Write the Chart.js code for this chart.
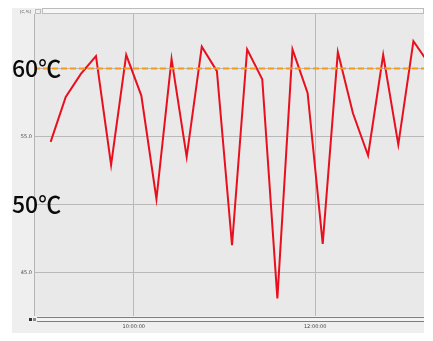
<!DOCTYPE html>
<html lang="en">
<head>
  <meta charset="UTF-8">
  <title>Temperature log</title>
  <script src="https://cdn.jsdelivr.net/npm/chart.js"></script>
  <style>
    html, body { margin: 0; padding: 0; background: #ffffff; }
    #wrap { width: 433px; height: 341px; position: relative; }
  </style>
</head>
<body>
  <div id="wrap"><canvas id="tempChart" width="433" height="341"></canvas></div>

  <script>
    // readings every 10 minutes, time in minutes after midnight
    const times = [545, 555, 565, 575, 585, 595, 605, 615, 625, 635, 645, 655, 665,
                   675, 685, 695, 705, 715, 725, 735, 745, 755, 765, 775, 785, 795];
    const temps = [54.6, 57.9, 59.6, 60.9, 52.9, 61.0, 58.0, 50.4, 60.7, 53.5, 61.6, 59.8, 47.0,
                   61.4, 59.2, 43.1, 61.4, 58.2, 47.1, 61.2, 56.7, 53.6, 61.0, 54.4, 62.0, 60.4];
    const xTicks = [600, 720];
    const yTicks = [45, 50, 55, 60];
    const yLabelled = [45, 55];
    const limitValue = 60;
    const bigLabels = [{ value: 60, text: '60℃' }, { value: 50, text: '50℃' }];

    const xMin = 534, xMax = 792;

    function fmtTime(m) {
      const h = Math.floor(m / 60), mm = m % 60;
      return String(h).padStart(2, '0') + ':' + String(mm).padStart(2, '0') + ':00';
    }

    // panel, header strip and scroll bar around the plot
    const framePlugin = {
      id: 'frame',
      beforeDraw(chart) {
        const { ctx, chartArea: a } = chart;
        ctx.save();
        ctx.fillStyle = '#ffffff';
        ctx.fillRect(0, 0, chart.width, chart.height);
        ctx.fillStyle = '#efefef';
        ctx.fillRect(12, 8, a.right - 12, 325);
        ctx.fillStyle = '#e9e9e9';
        ctx.fillRect(a.left, a.top, a.right - a.left, a.bottom - a.top);
        // header strip
        ctx.fillStyle = '#f7f7f7';
        ctx.fillRect(42, 8, a.right - 42, 6);
        ctx.strokeStyle = '#bcbcbc';
        ctx.lineWidth = 1;
        ctx.strokeRect(42.5, 8.5, a.right - 43, 5);
        ctx.strokeRect(35.5, 9.5, 5, 4);
        ctx.fillStyle = '#555';
        ctx.font = '4px "DejaVu Sans"';
        ctx.textBaseline = 'middle';
        ctx.fillText('[C,%]', 20, 11.5);
        // plot border
        ctx.strokeStyle = '#b5b5b5';
        ctx.beginPath();
        ctx.moveTo(a.left + 0.5, a.top);
        ctx.lineTo(a.left + 0.5, a.bottom);
        ctx.stroke();
        // scroll bar
        ctx.fillStyle = '#f4f4f4';
        ctx.fillRect(37, a.bottom + 1, a.right - 37, 5);
        ctx.strokeStyle = '#7e7e7e';
        ctx.beginPath();
        ctx.moveTo(37, a.bottom + 1.5); ctx.lineTo(a.right, a.bottom + 1.5);
        ctx.moveTo(37, a.bottom + 5.5); ctx.lineTo(a.right, a.bottom + 5.5);
        ctx.stroke();
        ctx.fillStyle = '#333';
        ctx.fillRect(29, a.bottom + 2, 3, 3);
        ctx.fillStyle = '#888';
        ctx.fillRect(33, a.bottom + 2, 3, 3);
        ctx.restore();
      },
      afterDraw(chart) {
        const { ctx } = chart;
        const y = chart.scales.y;
        ctx.save();
        ctx.fillStyle = '#0a0a0a';
        ctx.font = '500 23px "Noto Sans CJK JP"';
        ctx.textBaseline = 'middle';
        bigLabels.forEach(l => {
          ctx.fillText(l.text, 12, y.getPixelForValue(l.value));
        });
        ctx.restore();
      }
    };

    new Chart(document.getElementById('tempChart'), {
      type: 'line',
      data: {
        datasets: [{
          label: 'limit',
          data: [{ x: xMin, y: limitValue }, { x: xMax, y: limitValue }],
          borderColor: '#f39a1f',
          borderWidth: 2,
          borderDash: [6, 3],
          pointRadius: 0
        }, {
          label: 'Temperature',
          data: times.map((t, i) => ({ x: t, y: temps[i] })),
          borderColor: '#e8101e',
          borderWidth: 2,
          pointRadius: 0,
          tension: 0
        }]
      },
      options: {
        responsive: false,
        animation: false,
        events: [],
        layout: { padding: { left: 12, top: 14, right: 9, bottom: 8 } },
        plugins: { legend: { display: false }, tooltip: { enabled: false } },
        scales: {
          x: {
            type: 'linear',
            min: xMin,
            max: xMax,
            afterBuildTicks: s => { s.ticks = xTicks.map(v => ({ value: v })); },
            afterFit: s => { s.height = 17; },
            grid: { color: '#b9b9b9', drawTicks: false },
            border: { display: false },
            ticks: {
              padding: 8,
              maxRotation: 0,
              autoSkip: false,
              font: { size: 5, family: 'DejaVu Sans' },
              color: '#444',
              callback: v => fmtTime(v)
            }
          },
          y: {
            min: 41.8,
            max: 64,
            afterBuildTicks: s => { s.ticks = yTicks.map(v => ({ value: v })); },
            afterFit: s => { s.width = 22; },
            grid: { color: '#b9b9b9', drawTicks: false },
            border: { display: false },
            ticks: {
              padding: 2,
              autoSkip: false,
              font: { size: 5, family: 'DejaVu Sans' },
              color: '#444',
              callback: v => yLabelled.includes(v) ? v.toFixed(1) : ''
            }
          }
        }
      },
      plugins: [framePlugin]
    });
  </script>
</body>
</html>
